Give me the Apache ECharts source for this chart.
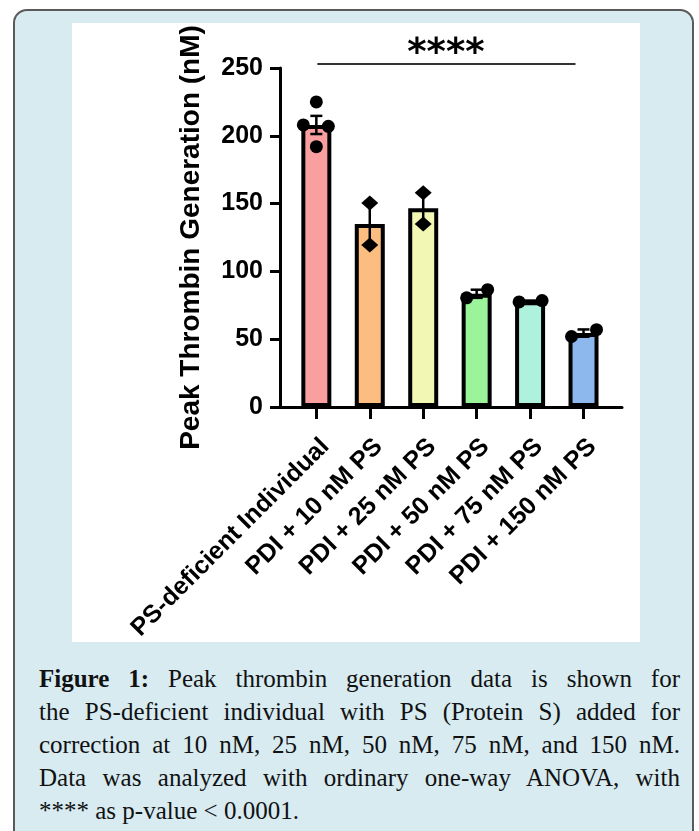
<!DOCTYPE html>
<html>
<head>
<meta charset="utf-8">
<script src="https://cdn.jsdelivr.net/npm/echarts@6/dist/echarts.min.js"></script>
<style>
html, body { margin:0; padding:0; background:#fff; width:699px; height:831px; overflow:hidden; }
#panel { position:absolute; left:13px; top:9px; width:681px; height:900px; background:#d7ebf1;
         border:2px solid #5a5a5a; border-radius:14px; box-sizing:border-box; }
#figbox { position:absolute; left:72px; top:23px; width:568px; height:619px; background:#fff; }
#chart { position:absolute; left:0; top:0; width:699px; height:660px; }
#caption { position:absolute; left:39px; top:662px; width:641px; font-family:"Liberation Serif", serif;
           font-size:25px; line-height:33px; color:#111; }
#caption div { text-align:justify; text-align-last:justify; white-space:nowrap; }
#caption div.last { text-align-last:left; }
</style>
</head>
<body>
<div id="panel"></div>
<div id="figbox"></div>
<div id="chart"></div>
<div id="caption">
  <div><b>Figure 1:</b> Peak thrombin generation data is shown for</div>
  <div>the PS-deficient individual with PS (Protein S) added for</div>
  <div>correction at 10 nM, 25 nM, 50 nM, 75 nM, and 150 nM.</div>
  <div>Data was analyzed with ordinary one-way ANOVA, with</div>
  <div class="last">**** as p-value &lt; 0.0001.</div>
</div>
<script>
// data
var categories = ['PS-deficient Individual', 'PDI + 10 nM PS', 'PDI + 25 nM PS',
                  'PDI + 50 nM PS', 'PDI + 75 nM PS', 'PDI + 150 nM PS'];
var barMeans = [208, 135, 146.5, 83.5, 78, 54.5];
var barSem = [6.7, 15.5, 11.5, 3, 0.5, 2.7];
var pointsPS = [225, 208, 207, 192];
var points10 = [150.5, 119.5];
var points25 = [158, 135];
var points50 = [80.5, 86.5];
var points75 = [77.5, 78.5];
var points150 = [52, 57];
var yTicks = [0, 50, 100, 150, 200, 250];
var sigLabel = '****';

var groupPoints = [pointsPS, points10, points25, points50, points75, points150];

// look
var barColors = ['#f99f9f', '#fbbd80', '#f2f8b4', '#9cf49a', '#aef1dc', '#8cb8ee'];
var pointShapes = ['circle', 'diamond', 'diamond', 'circle', 'circle', 'circle'];
var jitterPx = [[0, -13, 12, 0], [0, 0], [0, 0], [-10, 11], [-11, 12], [-12, 13]];
var sansFont = '"Liberation Sans", Arial, Helvetica, sans-serif';
var catIdx = categories.map(function (c, i) { return i; });

var myChart = echarts.init(document.getElementById('chart'));

var barData = barMeans.map(function (v, i) {
    return { value: [i, v], itemStyle: { color: barColors[i] } };
});
var errData = barMeans.map(function (v, i) {
    return [i, v - barSem[i], v + barSem[i]];
});
var pointData = [];
groupPoints.forEach(function (pts, i) {
    pts.forEach(function (v, j) {
        var isDiamond = pointShapes[i] == 'diamond';
        pointData.push({
            value: [i, v],
            symbol: pointShapes[i],
            symbolSize: isDiamond ? [17, 15] : 13,
            symbolOffset: [jitterPx[i][j], 0]
        });
    });
});

var option = {
    animation: false,
    grid: { left: 280, right: 77, top: 68, bottom: 253 },
    xAxis: {
        type: 'value',
        min: -0.68,
        max: 5.72,
        splitLine: { show: false },
        axisLine: { show: true, onZero: false, lineStyle: { color: '#000', width: 3 } },
        axisTick: { show: true, customValues: catIdx, length: 12, lineStyle: { color: '#000', width: 3 } },
        axisLabel: {
            customValues: catIdx,
            formatter: function (v) { return categories[Math.round(v)]; },
            rotate: 45,
            align: 'right',
            verticalAlign: 'top',
            margin: 27,
            color: '#000',
            fontSize: 25,
            fontWeight: 'bold',
            fontFamily: sansFont
        }
    },
    yAxis: {
        type: 'value',
        min: yTicks[0],
        max: yTicks[yTicks.length - 1],
        interval: 50,
        name: 'Peak Thrombin Generation (nM)',
        nameLocation: 'middle',
        nameRotate: 90,
        nameGap: 75,
        nameTextStyle: { color: '#000', fontSize: 28, fontWeight: 'bold', fontFamily: sansFont },
        splitLine: { show: false },
        axisLine: { show: true, onZero: false, lineStyle: { color: '#000', width: 3 } },
        axisTick: { show: true, length: 10, lineStyle: { color: '#000', width: 3 } },
        axisLabel: { margin: 17, color: '#000', fontSize: 25, fontWeight: 'bold', fontFamily: sansFont }
    },
    series: [
        {
            name: 'mean',
            type: 'bar',
            barWidth: 30,
            itemStyle: { borderColor: '#000', borderWidth: 4 },
            data: barData
        },
        {
            name: 'sem',
            type: 'custom',
            z: 3,
            data: errData,
            renderItem: function (params, api) {
                var hi = api.coord([api.value(0), api.value(2)]);
                var lo = api.coord([api.value(0), api.value(1)]);
                var x = hi[0], half = 6;
                var st = { stroke: '#000', lineWidth: 2.5 };
                return {
                    type: 'group',
                    children: [
                        { type: 'line', shape: { x1: x, y1: hi[1], x2: x, y2: lo[1] }, style: st },
                        { type: 'line', shape: { x1: x - half, y1: hi[1], x2: x + half, y2: hi[1] }, style: st },
                        { type: 'line', shape: { x1: x - half, y1: lo[1], x2: x + half, y2: lo[1] }, style: st }
                    ]
                };
            }
        },
        {
            name: 'points',
            type: 'scatter',
            z: 4,
            itemStyle: { color: '#000', opacity: 1 },
            data: pointData
        }
    ]
};
myChart.setOption(option);

// significance bracket above the bars
var pA = myChart.convertToPixel({ gridIndex: 0 }, [0, 250]);
var pB = myChart.convertToPixel({ gridIndex: 0 }, [4.85, 250]);
var lineY = pA[1] - 4;
myChart.setOption({
    graphic: [
        {
            type: 'line',
            shape: { x1: pA[0] + 1, y1: lineY, x2: pB[0], y2: lineY },
            style: { stroke: '#333', lineWidth: 2 }
        },
        {
            type: 'text',
            x: (pA[0] + pB[0]) / 2,
            y: lineY - 10,
            style: {
                text: sigLabel,
                fill: '#000',
                font: 'bold 37px "DejaVu Sans", sans-serif',
                align: 'center',
                verticalAlign: 'middle'
            }
        }
    ]
});
</script>
</body>
</html>
